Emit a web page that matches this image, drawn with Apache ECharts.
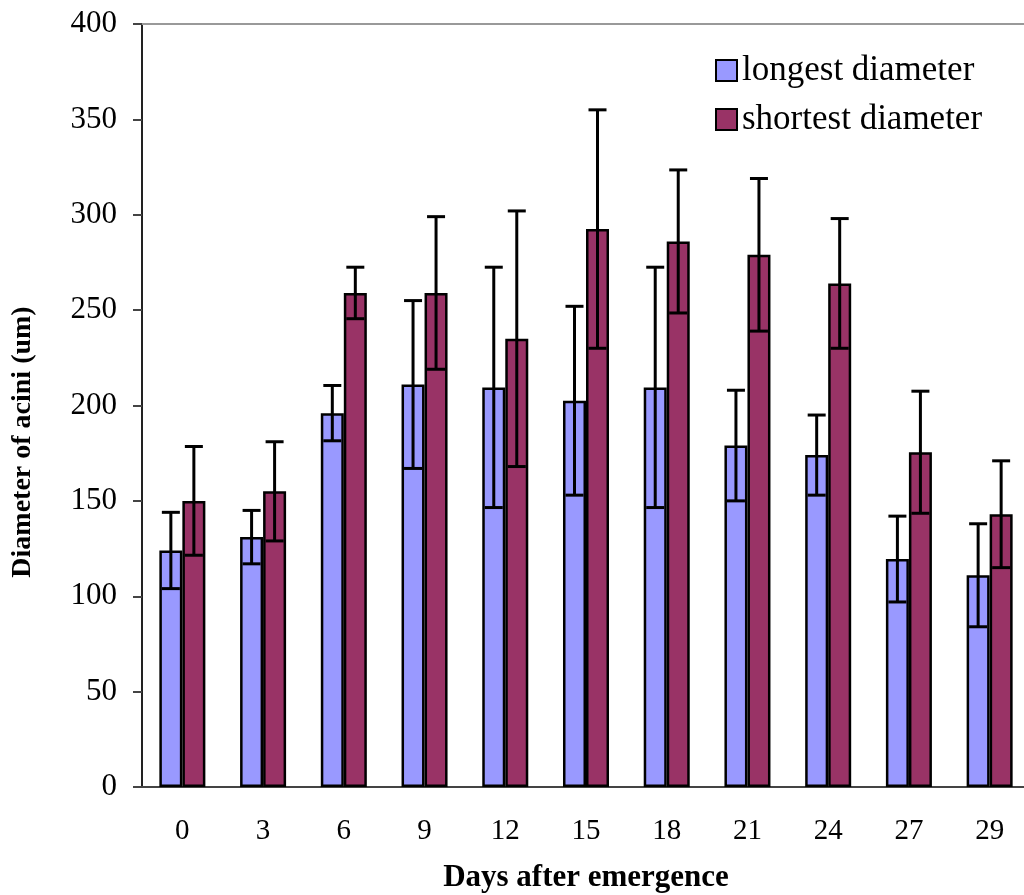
<html>
<head>
  <meta charset="utf-8" />
  <title>Diameter of acini</title>
  <script type="text/javascript" src="https://cdn.jsdelivr.net/npm/echarts@6/dist/echarts.min.js"></script>
</head>
<body style="margin: 0; background: #fff">
  <div id="chart" style="width: 1024px; height: 895px"></div>
  <script type="text/javascript">
  // days after emergence
  var days = ['0', '3', '6', '9', '12', '15', '18', '21', '24', '27', '29'];
  // means and error (+/-)
  var longestMean = [124, 131, 196, 211, 209.5, 202.5, 209.5, 179, 174, 119.5, 111];
  var longestErr  = [20, 14, 14.5, 44, 63, 49.5, 63, 29, 21, 22.5, 27];
  var shortestMean = [150, 155, 259, 259, 235, 292.5, 286, 279, 264, 175.5, 143];
  var shortestErr  = [28.5, 26, 13.5, 40, 67, 62.5, 37.5, 40, 34, 32, 28];
  var yTicks = [0, 50, 100, 150, 200, 250, 300, 350, 400];

  var font = 'Liberation Serif, Times New Roman, serif';
  var barPct = 0.285;

  function errData(mean, err) {
    var out = [];
    for (var i = 0; i < mean.length; i++) {
      out.push([i, mean[i], mean[i] - err[i], mean[i] + err[i]]);
    }
    return out;
  }

  function errRender(side) {
    return function (params, api) {
      var x = api.value(0);
      var top = api.coord([x, api.value(3)]);
      var bot = api.coord([x, api.value(2)]);
      var band = api.size([1, 0])[0];
      var cx = top[0] + side * band * barPct / 2;
      var cap = 9;
      var st = { stroke: '#000', lineWidth: 3 };
      return {
        type: 'group',
        children: [
          { type: 'line', shape: { x1: cx, y1: top[1], x2: cx, y2: bot[1] }, style: st },
          { type: 'line', shape: { x1: cx - cap, y1: top[1], x2: cx + cap, y2: top[1] }, style: st },
          { type: 'line', shape: { x1: cx - cap, y1: bot[1], x2: cx + cap, y2: bot[1] }, style: st }
        ]
      };
    };
  }

  var myChart = echarts.init(document.getElementById('chart'));
  var option = {
    backgroundColor: '#fff',
    animation: false,
    grid: { left: 142, top: 24, width: 888, height: 763, outerBoundsMode: 'none', containLabel: false },
    legend: {
      orient: 'vertical',
      left: 710,
      top: 48,
      itemWidth: 21,
      itemHeight: 21,
      itemGap: 14,
      icon: 'rect',
      textStyle: { fontFamily: font, fontSize: 35, color: '#000' },
      data: ['longest diameter', 'shortest diameter']
    },
    xAxis: [{
      type: 'category',
      data: days,
      axisLine: { lineStyle: { color: '#444', width: 2 } },
      axisTick: { show: false },
      axisLabel: { fontFamily: font, fontSize: 29, color: '#000', margin: 30 },
      name: 'Days after emergence',
      nameLocation: 'middle',
      nameGap: 75,
      nameTextStyle: { fontFamily: font, fontSize: 31, fontWeight: 'bold', color: '#000' }
    }, {
      type: 'category',
      position: 'top',
      data: days,
      axisLine: { lineStyle: { color: '#999', width: 2 } },
      axisTick: { show: false },
      axisLabel: { show: false }
    }],
    yAxis: {
      type: 'value',
      min: yTicks[0],
      max: yTicks[yTicks.length - 1],
      interval: 50,
      axisLine: { show: true, lineStyle: { color: '#222', width: 2 } },
      axisTick: { show: true, length: 9, lineStyle: { color: '#444', width: 2 } },
      splitLine: { show: false },
      axisLabel: { fontFamily: font, fontSize: 31, color: '#000', margin: 25 }
    },
    graphic: [{
      type: 'text',
      x: 23,
      y: 442,
      rotation: Math.PI / 2,
      style: {
        text: 'Diameter of acini (um)',
        fontFamily: font,
        fontSize: 28,
        fontWeight: 'bold',
        fill: '#000',
        align: 'center',
        verticalAlign: 'middle'
      }
    }],
    series: [{
      name: 'longest diameter',
      type: 'bar',
      data: longestMean,
      barWidth: (barPct * 100) + '%',
      barGap: '0%',
      itemStyle: { color: '#9999FF', borderColor: '#000', borderWidth: 2.5 }
    }, {
      name: 'shortest diameter',
      type: 'bar',
      data: shortestMean,
      barWidth: (barPct * 100) + '%',
      barGap: '0%',
      itemStyle: { color: '#993366', borderColor: '#000', borderWidth: 2.5 }
    }, {
      type: 'custom',
      renderItem: errRender(-1),
      data: errData(longestMean, longestErr),
      z: 10
    }, {
      type: 'custom',
      renderItem: errRender(1),
      data: errData(shortestMean, shortestErr),
      z: 10
    }]
  };
  myChart.setOption(option);
  </script>
</body>
</html>
